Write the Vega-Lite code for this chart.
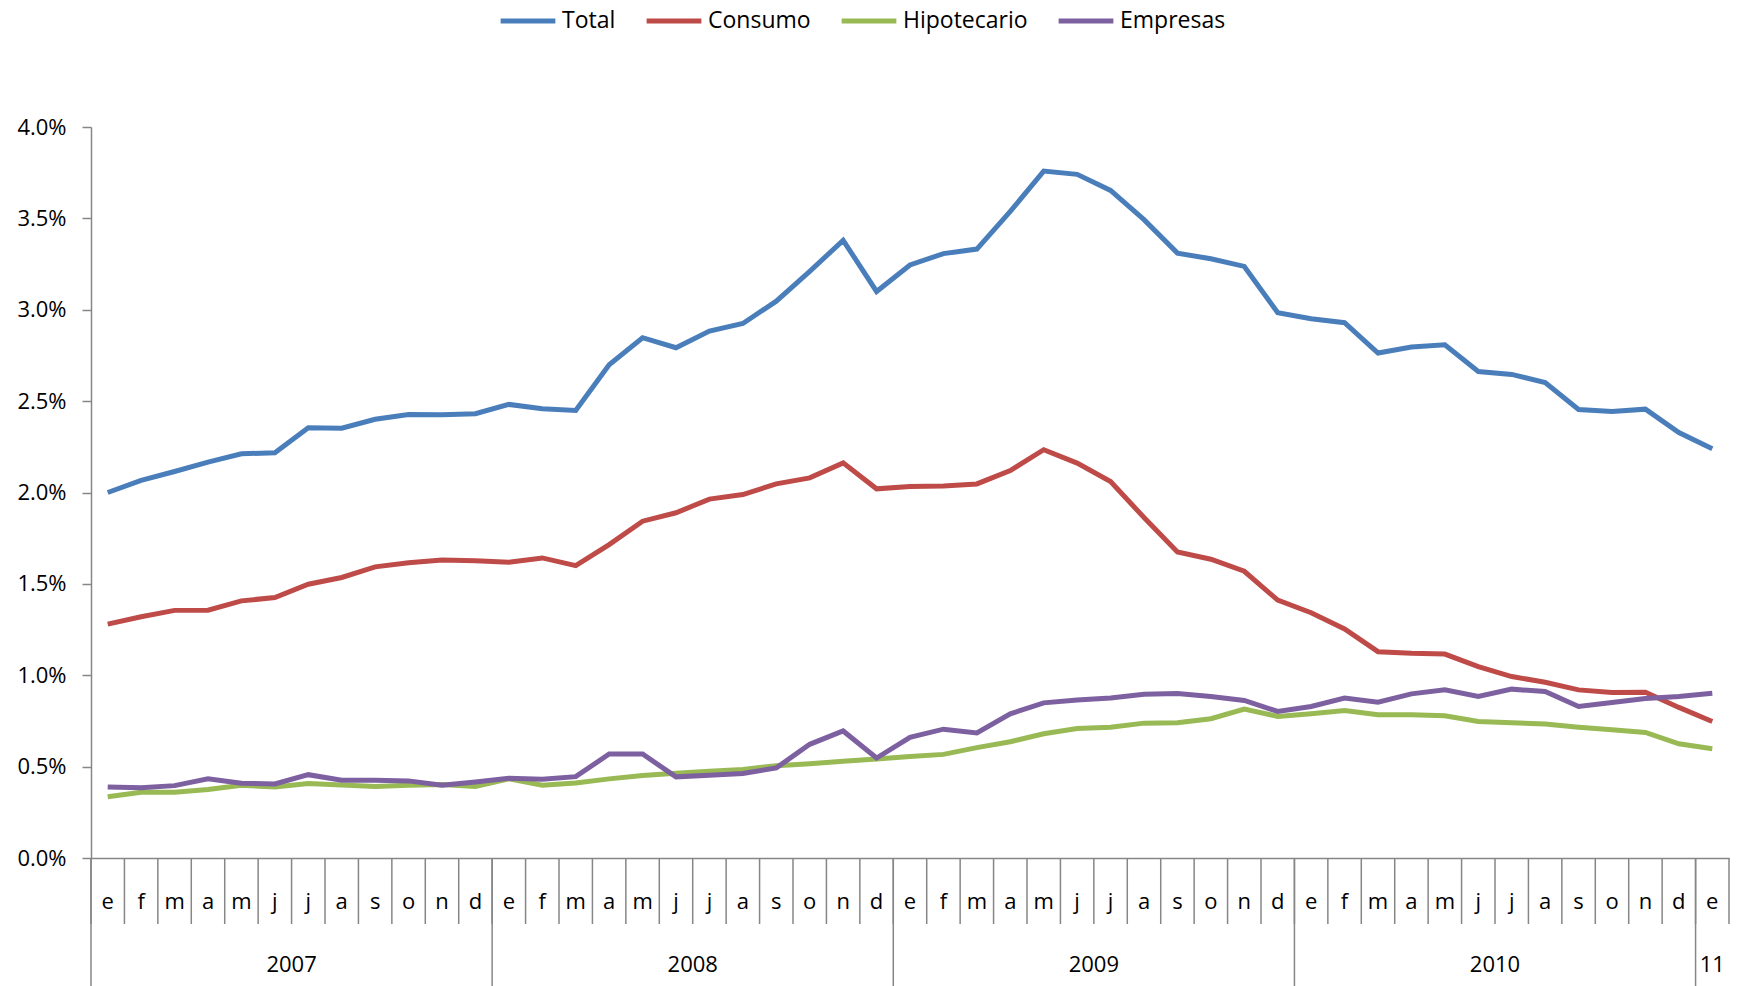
{
  "$schema": "https://vega.github.io/schema/vega-lite/v6.json",
  "width": 1638,
  "height": 731,
  "autosize": "none",
  "padding": {"left": 91, "top": 127, "right": 11, "bottom": 128},
  "background": "white",
  "config": {"view": {"stroke": null}},
  "datasets": {
    "series": [
      {"m": "2007-01", "Total": 2.000, "Consumo": 1.280, "Hipotecario": 0.335, "Empresas": 0.389},
      {"m": "2007-02", "Total": 2.066, "Consumo": 1.320, "Hipotecario": 0.360, "Empresas": 0.384},
      {"m": "2007-03", "Total": 2.115, "Consumo": 1.355, "Hipotecario": 0.360, "Empresas": 0.396},
      {"m": "2007-04", "Total": 2.166, "Consumo": 1.356, "Hipotecario": 0.375, "Empresas": 0.433},
      {"m": "2007-05", "Total": 2.212, "Consumo": 1.407, "Hipotecario": 0.398, "Empresas": 0.409},
      {"m": "2007-06", "Total": 2.217, "Consumo": 1.425, "Hipotecario": 0.389, "Empresas": 0.405},
      {"m": "2007-07", "Total": 2.354, "Consumo": 1.498, "Hipotecario": 0.407, "Empresas": 0.456},
      {"m": "2007-08", "Total": 2.352, "Consumo": 1.535, "Hipotecario": 0.400, "Empresas": 0.425},
      {"m": "2007-09", "Total": 2.401, "Consumo": 1.593, "Hipotecario": 0.391, "Empresas": 0.425},
      {"m": "2007-10", "Total": 2.427, "Consumo": 1.615, "Hipotecario": 0.398, "Empresas": 0.422},
      {"m": "2007-11", "Total": 2.425, "Consumo": 1.631, "Hipotecario": 0.402, "Empresas": 0.398},
      {"m": "2007-12", "Total": 2.431, "Consumo": 1.627, "Hipotecario": 0.391, "Empresas": 0.416},
      {"m": "2008-01", "Total": 2.482, "Consumo": 1.618, "Hipotecario": 0.433, "Empresas": 0.436},
      {"m": "2008-02", "Total": 2.458, "Consumo": 1.642, "Hipotecario": 0.398, "Empresas": 0.431},
      {"m": "2008-03", "Total": 2.449, "Consumo": 1.600, "Hipotecario": 0.411, "Empresas": 0.445},
      {"m": "2008-04", "Total": 2.699, "Consumo": 1.715, "Hipotecario": 0.433, "Empresas": 0.569},
      {"m": "2008-05", "Total": 2.847, "Consumo": 1.843, "Hipotecario": 0.451, "Empresas": 0.569},
      {"m": "2008-06", "Total": 2.792, "Consumo": 1.889, "Hipotecario": 0.464, "Empresas": 0.444},
      {"m": "2008-07", "Total": 2.883, "Consumo": 1.964, "Hipotecario": 0.475, "Empresas": 0.453},
      {"m": "2008-08", "Total": 2.925, "Consumo": 1.989, "Hipotecario": 0.484, "Empresas": 0.462},
      {"m": "2008-09", "Total": 3.047, "Consumo": 2.047, "Hipotecario": 0.505, "Empresas": 0.493},
      {"m": "2008-10", "Total": 3.210, "Consumo": 2.080, "Hipotecario": 0.516, "Empresas": 0.622},
      {"m": "2008-11", "Total": 3.380, "Consumo": 2.162, "Hipotecario": 0.529, "Empresas": 0.695},
      {"m": "2008-12", "Total": 3.100, "Consumo": 2.020, "Hipotecario": 0.542, "Empresas": 0.547},
      {"m": "2009-01", "Total": 3.245, "Consumo": 2.033, "Hipotecario": 0.556, "Empresas": 0.660},
      {"m": "2009-02", "Total": 3.307, "Consumo": 2.036, "Hipotecario": 0.567, "Empresas": 0.705},
      {"m": "2009-03", "Total": 3.332, "Consumo": 2.047, "Hipotecario": 0.604, "Empresas": 0.684},
      {"m": "2009-04", "Total": 3.538, "Consumo": 2.120, "Hipotecario": 0.636, "Empresas": 0.789},
      {"m": "2009-05", "Total": 3.759, "Consumo": 2.234, "Hipotecario": 0.680, "Empresas": 0.849},
      {"m": "2009-06", "Total": 3.741, "Consumo": 2.161, "Hipotecario": 0.709, "Empresas": 0.865},
      {"m": "2009-07", "Total": 3.653, "Consumo": 2.060, "Hipotecario": 0.716, "Empresas": 0.876},
      {"m": "2009-08", "Total": 3.493, "Consumo": 1.863, "Hipotecario": 0.738, "Empresas": 0.896},
      {"m": "2009-09", "Total": 3.310, "Consumo": 1.675, "Hipotecario": 0.740, "Empresas": 0.900},
      {"m": "2009-10", "Total": 3.279, "Consumo": 1.635, "Hipotecario": 0.762, "Empresas": 0.884},
      {"m": "2009-11", "Total": 3.237, "Consumo": 1.569, "Hipotecario": 0.815, "Empresas": 0.862},
      {"m": "2009-12", "Total": 2.984, "Consumo": 1.411, "Hipotecario": 0.775, "Empresas": 0.802},
      {"m": "2010-01", "Total": 2.951, "Consumo": 1.342, "Hipotecario": 0.789, "Empresas": 0.829},
      {"m": "2010-02", "Total": 2.929, "Consumo": 1.253, "Hipotecario": 0.807, "Empresas": 0.875},
      {"m": "2010-03", "Total": 2.763, "Consumo": 1.129, "Hipotecario": 0.784, "Empresas": 0.853},
      {"m": "2010-04", "Total": 2.796, "Consumo": 1.120, "Hipotecario": 0.784, "Empresas": 0.898},
      {"m": "2010-05", "Total": 2.808, "Consumo": 1.116, "Hipotecario": 0.778, "Empresas": 0.920},
      {"m": "2010-06", "Total": 2.662, "Consumo": 1.047, "Hipotecario": 0.747, "Empresas": 0.884},
      {"m": "2010-07", "Total": 2.646, "Consumo": 0.993, "Hipotecario": 0.740, "Empresas": 0.924},
      {"m": "2010-08", "Total": 2.602, "Consumo": 0.962, "Hipotecario": 0.733, "Empresas": 0.911},
      {"m": "2010-09", "Total": 2.454, "Consumo": 0.920, "Hipotecario": 0.716, "Empresas": 0.829},
      {"m": "2010-10", "Total": 2.443, "Consumo": 0.905, "Hipotecario": 0.702, "Empresas": 0.851},
      {"m": "2010-11", "Total": 2.456, "Consumo": 0.907, "Hipotecario": 0.687, "Empresas": 0.873},
      {"m": "2010-12", "Total": 2.328, "Consumo": 0.824, "Hipotecario": 0.625, "Empresas": 0.884},
      {"m": "2011-01", "Total": 2.239, "Consumo": 0.747, "Hipotecario": 0.598, "Empresas": 0.902}
    ],
    "yearstarts": [
      {"m": "2007-01"}, {"m": "2008-01"}, {"m": "2009-01"}, {"m": "2010-01"}, {"m": "2011-01"}
    ],
    "years": [
      {"m": "2007-07", "label": "2007"},
      {"m": "2008-07", "label": "2008"},
      {"m": "2009-07", "label": "2009"},
      {"m": "2010-07", "label": "2010"}
    ],
    "lastmonth": [
      {"m": "2011-01", "label": "11"}
    ]
  },
  "layer": [
    {
      "data": {"name": "series"},
      "mark": {"type": "rule", "color": "#868686", "strokeWidth": 1.5},
      "encoding": {
        "x": {"field": "m", "type": "nominal", "bandPosition": 0},
        "y": {"datum": 0},
        "y2": {"datum": -0.361}
      }
    },
    {
      "data": {"name": "lastmonth"},
      "mark": {"type": "rule", "color": "#868686", "strokeWidth": 1.5},
      "encoding": {
        "x": {"field": "m", "type": "nominal", "bandPosition": 1},
        "y": {"datum": 0},
        "y2": {"datum": -0.361}
      }
    },
    {
      "data": {"name": "yearstarts"},
      "mark": {"type": "rule", "color": "#868686", "strokeWidth": 1.5},
      "encoding": {
        "x": {"field": "m", "type": "nominal", "bandPosition": 0},
        "y": {"datum": 0},
        "y2": {"datum": -0.71}
      }
    },
    {
      "data": {"name": "years"},
      "mark": {"type": "text", "font": "Open Sans", "fontSize": 22, "color": "#000000", "baseline": "middle", "align": "center"},
      "encoding": {
        "x": {"field": "m", "type": "nominal", "bandPosition": 0},
        "y": {"datum": -0.588},
        "text": {"field": "label"}
      }
    },
    {
      "data": {"name": "lastmonth"},
      "mark": {"type": "text", "font": "Open Sans", "fontSize": 22, "color": "#000000", "baseline": "middle", "align": "center"},
      "encoding": {
        "x": {"field": "m", "type": "nominal", "bandPosition": 0.5},
        "y": {"datum": -0.588},
        "text": {"field": "label"}
      }
    },
    {
      "data": {"name": "series"},
      "transform": [{"fold": ["Total", "Consumo", "Hipotecario", "Empresas"], "as": ["serie", "valor"]}],
      "mark": {"type": "line", "strokeWidth": 5},
      "encoding": {
        "x": {
          "field": "m", "type": "nominal",
          "scale": {"type": "band", "paddingInner": 0, "paddingOuter": 0},
          "axis": {
            "title": null,
            "labelAngle": 0,
            "labelAlign": "center",
            "labelExpr": "substring('efmamjjasond', toNumber(slice(datum.value, 5)) - 1, toNumber(slice(datum.value, 5)))",
            "ticks": false,
            "labelFont": "Open Sans",
            "labelFontSize": 22,
            "labelColor": "#000000",
            "labelBaseline": "middle",
            "labelPadding": 43,
            "domainColor": "#868686",
            "domainWidth": 1.5
          }
        },
        "y": {
          "field": "valor", "type": "quantitative",
          "scale": {"domain": [0, 4], "nice": false},
          "axis": {
            "title": null,
            "tickCount": 8,
            "labelExpr": "format(datum.value, '.1f') + '%'",
            "labelFont": "Open Sans",
            "labelFontSize": 22,
            "labelColor": "#000000",
            "gridColor": "#868686",
            "gridWidth": 1.5,
            "tickColor": "#868686",
            "tickWidth": 1.5,
            "tickSize": 9,
            "labelPadding": 16,
            "domainColor": "#868686",
            "domainWidth": 1.5
          }
        },
        "color": {
          "field": "serie", "type": "nominal",
          "scale": {"domain": ["Total", "Consumo", "Hipotecario", "Empresas"], "range": ["#4A7EBB", "#BE4B48", "#98B954", "#7D60A0"]},
          "legend": {
            "title": null,
            "orient": "none",
            "direction": "horizontal",
            "legendX": 407,
            "legendY": -136,
            "symbolType": "stroke",
            "symbolSize": 3000,
            "symbolStrokeWidth": 5,
            "labelFont": "Open Sans",
            "labelFontSize": 23,
            "labelColor": "#000000",
            "labelOffset": 4,
            "columnPadding": 20
          }
        }
      }
    }
  ]
}
